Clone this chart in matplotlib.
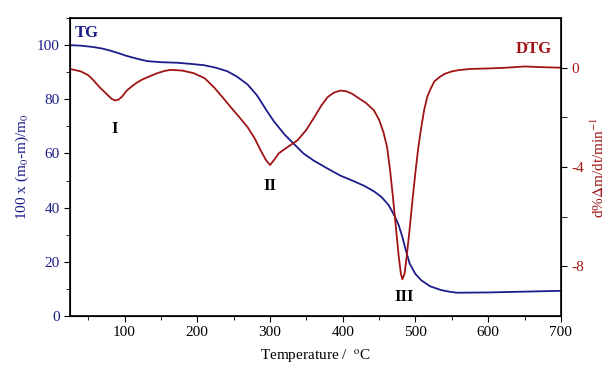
import matplotlib.pyplot as plt
from matplotlib.ticker import MultipleLocator

# TG curve: temperature (°C) -> 100 x (m0-m)/m0
tg_temp = [25, 40, 57, 70, 80, 92, 103, 117, 131, 150, 172, 190, 209, 225, 241, 255, 269,
           282, 295, 305, 320, 333, 346, 360, 380, 397, 415, 430, 443, 453, 463, 471, 477,
           482, 487, 492, 500, 508, 520, 535, 548, 558, 600, 650, 700]
tg_val = [100, 99.8, 99.3, 98.7, 98, 97, 96, 95, 94.1, 93.7, 93.5, 93.1, 92.6, 91.7, 90.4,
          88.3, 85.5, 81.5, 76, 72, 67, 63.5, 60, 57.4, 54.3, 51.8, 49.8, 48, 46, 44, 41,
          37.1, 33.5, 29.2, 24, 19.4, 15.5, 13.2, 11, 9.6, 8.9, 8.6, 8.7, 9.0, 9.3]

# DTG curve: temperature (°C) -> d%Δm/dt
dtg_temp = [25, 40, 50, 57, 66, 75, 82, 87, 92, 97, 103, 110, 117, 124, 131, 145, 155, 163,
            172, 180, 195, 210, 223, 235, 246, 258, 269, 279, 287, 294, 300, 306, 312, 319,
            328, 338, 350, 361, 370, 379, 388, 397, 405, 413, 420, 432, 443, 450, 456, 461,
            465, 469, 473, 477, 480, 482, 485, 488, 492, 496, 500, 504, 508, 512, 516, 520,
            526, 533, 540, 550, 559, 575, 600, 625, 650, 675, 700]
dtg_val = [-0.05, -0.15, -0.3, -0.5, -0.8, -1.05, -1.25, -1.32, -1.28, -1.15, -0.92, -0.75,
           -0.6, -0.48, -0.39, -0.22, -0.13, -0.09, -0.1, -0.12, -0.22, -0.42, -0.79, -1.2,
           -1.59, -2.0, -2.39, -2.85, -3.32, -3.7, -3.92, -3.7, -3.45, -3.3, -3.12, -2.92,
           -2.5, -1.99, -1.55, -1.19, -1.0, -0.92, -0.95, -1.05, -1.19, -1.42, -1.72, -2.1,
           -2.6, -3.2, -4.1, -5.2, -6.4, -7.6, -8.3, -8.52, -8.3, -7.6, -6.5, -5.3, -4.2,
           -3.2, -2.4, -1.7, -1.2, -0.9, -0.55, -0.38, -0.25, -0.15, -0.1, -0.05, -0.03,
           0.0, 0.05, 0.02, 0.0]

BLUE = "#1c1c8a"
RED = "#a01414"

plt.rcParams["font.family"] = ["Liberation Serif", "DejaVu Serif"]
plt.rcParams["mathtext.fontset"] = "stix"
plt.rcParams["axes.unicode_minus"] = False

fig = plt.figure(figsize=(6.09, 3.72), dpi=100)
ax = fig.add_axes([0.115, 0.1505, 0.806, 0.801])
ax2 = ax.twinx()

ax.plot(tg_temp, tg_val, color=BLUE, lw=1.3)
ax2.plot(dtg_temp, dtg_val, color=RED, lw=1.3)

ax.set_xlim(25, 700)
ax.set_ylim(0, 110)
ax2.set_ylim(-10, 2)

ax.xaxis.set_major_locator(MultipleLocator(100))
ax.xaxis.set_minor_locator(MultipleLocator(50))
ax.yaxis.set_major_locator(MultipleLocator(20))
ax.yaxis.set_minor_locator(MultipleLocator(10))
ax2.set_yticks([0, -4, -8])
ax2.set_yticks([-2, -6], minor=True)

ax.tick_params(axis="x", which="both", direction="out", labelsize=11, colors="black")
ax.tick_params(axis="y", which="both", direction="out", labelsize=11, colors="black",
               labelcolor=BLUE)
ax.tick_params(which="major", length=4)
ax.tick_params(which="minor", length=3)
ax2.tick_params(axis="y", which="both", direction="out", labelsize=11, labelcolor=RED)
ax2.tick_params(which="major", length=4)
ax2.tick_params(which="minor", length=4)

for sp in ax2.spines.values():
    sp.set_linewidth(1.2)

ax.set_xlabel("Temperature /  $^{\\rm o}$C", fontsize=11, labelpad=6)
ax.set_ylabel("100 x (m$_{\\rm 0}$-m)/m$_{\\rm 0}$", fontsize=11, color=BLUE, labelpad=4)
ax2.set_ylabel("d%$\\Delta$m/dt/min$^{-1}$", fontsize=11, color=RED, labelpad=4)

ax.text(31, 103, "TG", color=BLUE, fontsize=12, fontweight="bold")
ax2.text(688, 0.6, "DTG", color=RED, fontsize=12, fontweight="bold", ha="right")
ax.text(87, 69, "I", fontsize=12, fontweight="bold", ha="center", va="center")
ax.text(300, 48, "II", fontsize=12, fontweight="bold", ha="center", va="center")
ax.text(485, 7, "III", fontsize=12, fontweight="bold", ha="center", va="center")

fig.savefig("out.png", dpi=100)
